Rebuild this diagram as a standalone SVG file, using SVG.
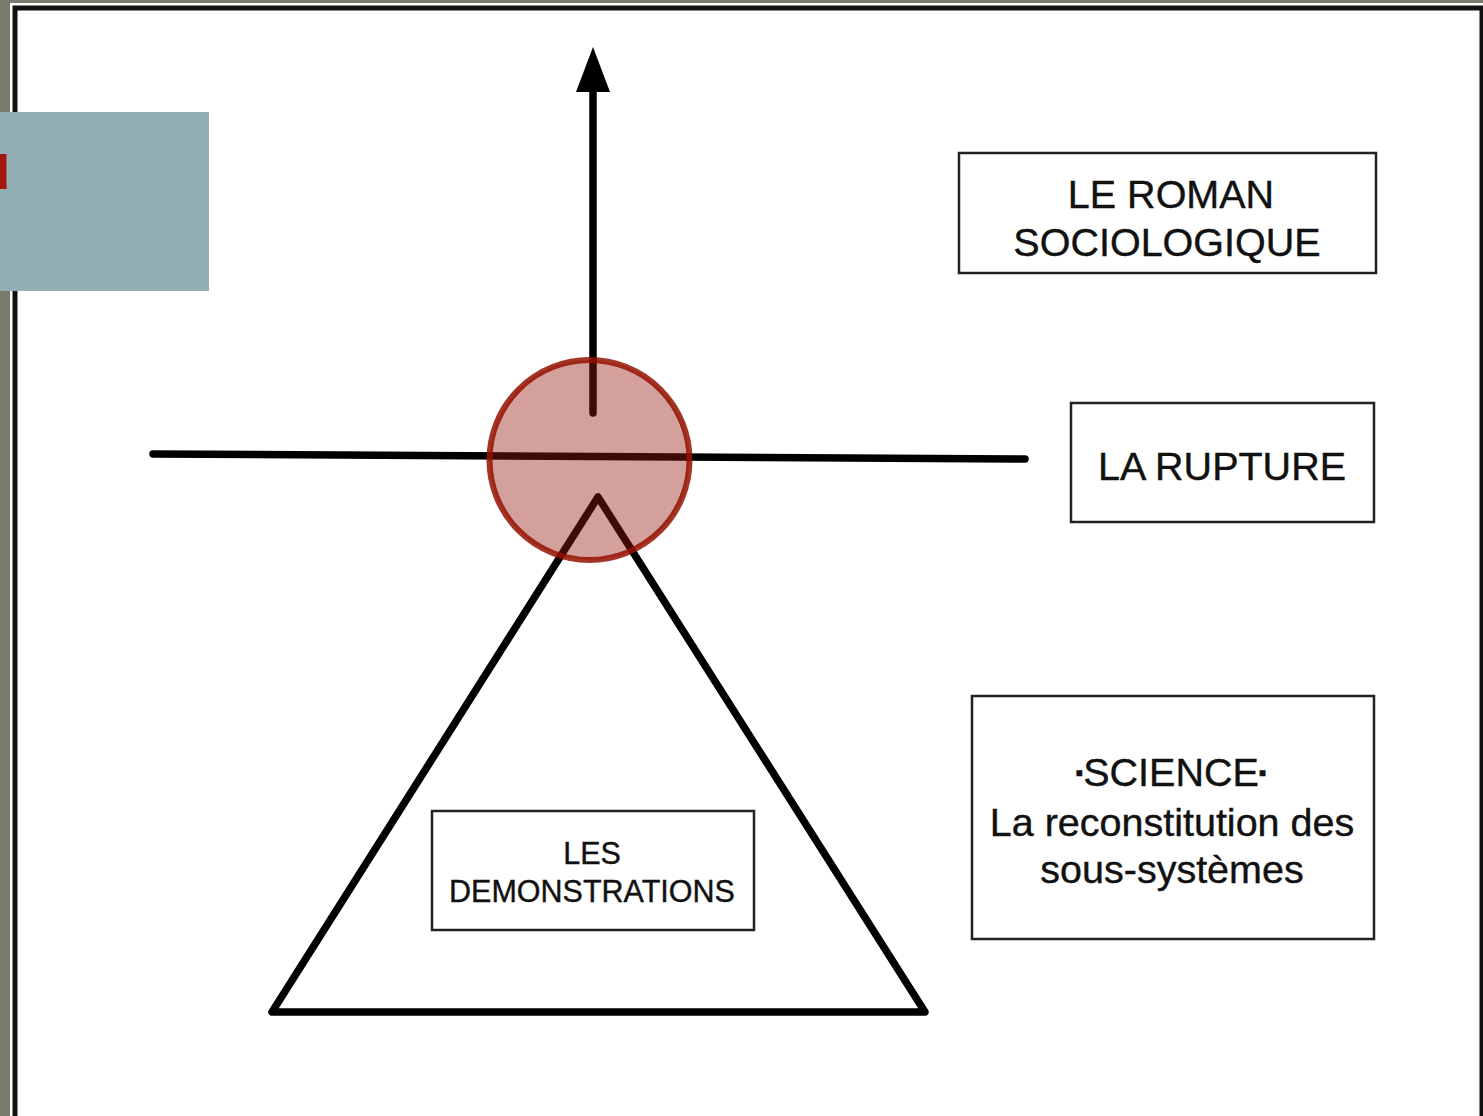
<svg xmlns="http://www.w3.org/2000/svg" width="1483" height="1116" viewBox="0 0 1483 1116">
<defs>
<style>
.box{fill:#fff;stroke:#222;stroke-width:2.5}
.lbl{font-family:"Liberation Sans",Arial,Helvetica,sans-serif;fill:#111;text-anchor:middle;stroke:#111;stroke-width:0.4}
.big{font-size:39.5px}
.small{font-size:30.5px}
.axis{fill:none;stroke:#000;stroke-width:7.5;stroke-linecap:round;stroke-linejoin:round}
</style>
</defs>
<g id="background">
<rect x="0" y="0" width="1483" height="1116" fill="#7a7a6d"/>
<rect x="10" y="3" width="1480" height="1200" fill="#fff"/>
<rect x="15" y="8" width="1467" height="1200" fill="#fff" stroke="#111" stroke-width="5"/>
</g>
<g id="sidebar">
<rect x="0" y="112" width="209" height="179" fill="#93aeb5"/>
<text x="11" y="189" font-family="Liberation Sans,Arial,sans-serif" font-weight="bold" font-size="66" fill="#a5180f" text-anchor="end">u</text>
</g>
<g id="connectors">
<line class="axis" x1="593" y1="413" x2="593" y2="88"/>
<polygon points="593,47 576,92 610,92" fill="#000"/>
<path class="axis" d="M153,454 L1025,459"/>
</g>
<g id="triangle">
<polygon class="axis" points="598,497 272,1012 925,1012"/>
</g>
<g id="rupture-point">
<circle cx="589.5" cy="460" r="100" fill="#95180c" fill-opacity="0.41" stroke="#931000" stroke-opacity="0.85" stroke-width="6"/>
</g>
<g id="roman">
<rect class="box" x="959" y="153" width="417" height="120"/>
<text class="lbl big" x="1171" y="208">LE ROMAN</text>
<text class="lbl big" x="1167" y="256">SOCIOLOGIQUE</text>
</g>
<g id="rupture">
<rect class="box" x="1071" y="403" width="303" height="119"/>
<text class="lbl big" x="1222" y="480">LA RUPTURE</text>
</g>
<g id="science">
<rect class="box" x="972" y="696" width="402" height="243"/>
<text class="lbl big" x="1171" y="786"><tspan font-size="22" dy="-6">▪</tspan><tspan dy="6">SCIENCE</tspan><tspan font-size="22" dy="-6">▪</tspan></text>
<text class="lbl big" x="1172" y="836">La reconstitution des</text>
<text class="lbl big" x="1172" y="883">sous-systèmes</text>
</g>
<g id="demonstrations">
<rect class="box" x="432" y="811" width="322" height="119"/>
<text class="lbl small" x="592" y="864">LES</text>
<text class="lbl small" x="592" y="902">DEMONSTRATIONS</text>
</g>
</svg>
